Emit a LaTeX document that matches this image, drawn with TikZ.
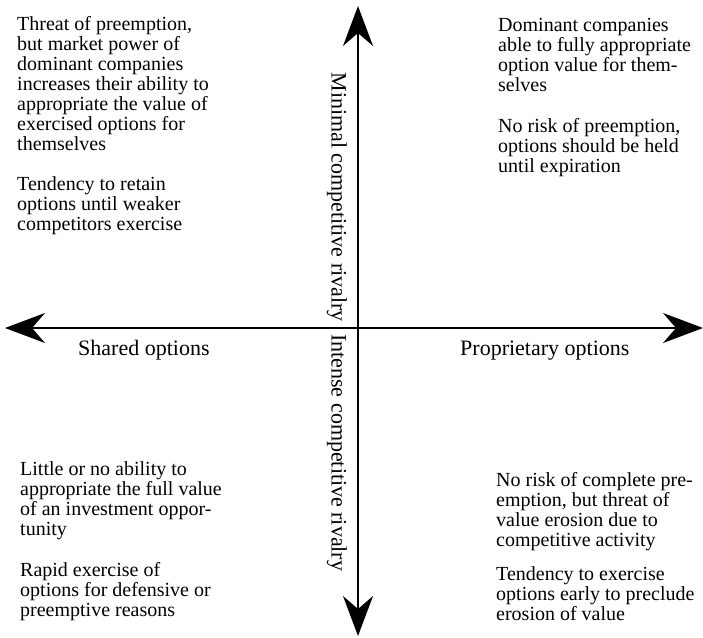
\documentclass[tikz,border=0pt]{standalone}
\usepackage{fontspec}
\setmainfont{Liberation Serif}
\usetikzlibrary{arrows.meta, positioning}

\begin{document}
\begin{tikzpicture}[
  x=1pt, y=-1pt,
  quad/.style={anchor=north west, align=left, inner sep=0pt, font=\fontsize{20}{20}\selectfont},
  axislabel/.style={inner sep=0pt, font=\fontsize{22}{22}\selectfont},
  axis/.style={line width=1.8pt, -{Stealth[length=40pt, width=30pt, inset=13pt]}}
]
\useasboundingbox (0,0) rectangle (703,637);

% Axes
\coordinate (origin) at (358,328);
\coordinate (west) at (5,328);
\coordinate (east) at (703,328);
\coordinate (north) at (358,6);
\coordinate (south) at (358,636);
\draw[axis] (origin) -- (west);
\draw[axis] (origin) -- (east);
\draw[axis] (origin) -- (north);
\draw[axis] (origin) -- (south);

% Axis labels
\node[axislabel, rotate=-90, anchor=north east] (minimal) at (347,322) {Minimal competitive rivalry};
\node[axislabel, rotate=-90, anchor=north west] (intense) at (347,334) {Intense competitive rivalry};
\node[axislabel, anchor=base west] (shared) at (78,355) {Shared options};
\node[axislabel, anchor=base west] (proprietary) at (460,355) {Proprietary options};

% Top left
\node[quad] (threat) at (17,16) {Threat of preemption,\\but market power of\\dominant companies\\increases their ability to\\appropriate the value of\\exercised options for\\themselves};
\node[quad] (retain) at (17,176) {Tendency to retain\\options until weaker\\competitors exercise};

% Top right
\node[quad] (dominant) at (498,18) {Dominant companies\\able to fully appropriate\\option value for them-\\selves};
\node[quad] (norisk) at (498,118) {No risk of preemption,\\options should be held\\until expiration};

% Bottom left
\node[quad] (little) at (20,461) {Little or no ability to\\appropriate the full value\\of an investment oppor-\\tunity};
\node[quad] (rapid) at (20,562) {Rapid exercise of\\options for defensive or\\preemptive reasons};

% Bottom right
\node[quad] (complete) at (496,472) {No risk of complete pre-\\emption, but threat of\\value erosion due to\\competitive activity};
\node[quad] (early) at (496,566) {Tendency to exercise\\options early to preclude\\erosion of value};

\end{tikzpicture}
\end{document}
